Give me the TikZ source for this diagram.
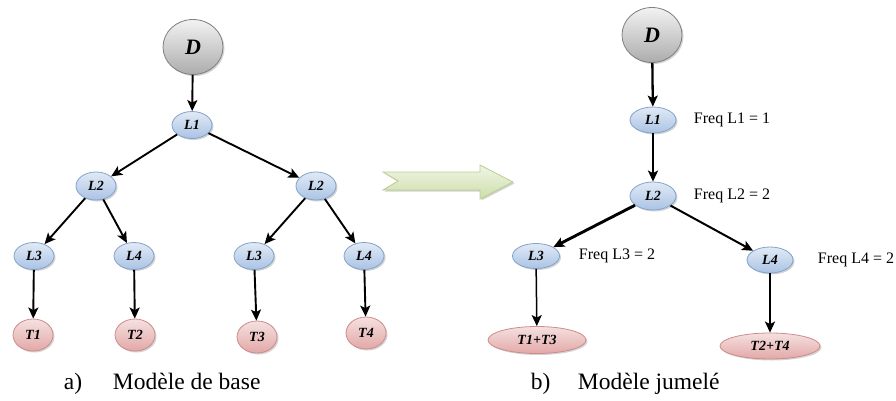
\documentclass[tikz,border=0pt]{standalone}
\usepackage{fontspec}
\setmainfont{Liberation Serif}
\usetikzlibrary{arrows.meta, shapes.geometric, shadows}

\definecolor{lblue}{RGB}{170,195,228}
\definecolor{lblueline}{RGB}{130,162,205}
\definecolor{tpink}{RGB}{226,168,167}
\definecolor{tpinkline}{RGB}{205,140,138}
\definecolor{agreen}{RGB}{205,222,170}
\definecolor{agreenline}{RGB}{185,206,140}

\begin{document}
\begin{tikzpicture}[x=1pt,y=-1pt,>={Stealth[length=11pt,width=10pt,inset=2.5pt]},line width=1.9pt]
  \tikzstyle{every shadow}=[opacity=0.35,shadow xshift=1.5pt,shadow yshift=-1.5pt]
  \tikzstyle{lnode}=[ellipse,draw=lblueline,line width=0.8pt,top color=lblue!35,bottom color=lblue,
    drop shadow,inner sep=0pt,font=\fontsize{14}{16}\selectfont\bfseries\itshape]
  \tikzstyle{tnode}=[lnode,draw=tpinkline,top color=tpink!35,bottom color=tpink]
  \tikzstyle{dnode}=[lnode,draw=gray,top color=gray!10,bottom color=gray!65,
    minimum width=60pt,minimum height=55pt,font=\fontsize{22}{24}\selectfont\bfseries\itshape]
  \tikzstyle{freq}=[anchor=west,inner sep=0pt,font=\fontsize{16}{18}\selectfont]
  \tikzstyle{caption}=[anchor=base west,inner sep=0pt,font=\fontsize{23.5}{26}\selectfont]

  \useasboundingbox (0,0) rectangle (896,401);

  % modele de base
  \node[dnode]                                      (aD)  at (193,47)  {D};
  \node[lnode,minimum width=40pt,minimum height=27pt] (aL1) at (192,125) {L1};
  \node[lnode,minimum width=40pt,minimum height=28pt] (aL2) at (96,186)  {L2};
  \node[lnode,minimum width=40pt,minimum height=28pt] (bL2) at (316,186) {L2};
  \node[lnode,minimum width=40pt,minimum height=27pt] (aL3) at (34,256)  {L3};
  \node[lnode,minimum width=40pt,minimum height=27pt] (aL4) at (134,256) {L4};
  \node[lnode,minimum width=40pt,minimum height=27pt] (bL3) at (254,256) {L3};
  \node[lnode,minimum width=40pt,minimum height=27pt] (bL4) at (364,256) {L4};
  \node[tnode,minimum width=40pt,minimum height=32pt] (aT1) at (33,335)  {T1};
  \node[tnode,minimum width=40pt,minimum height=32pt] (aT2) at (135,335) {T2};
  \node[tnode,minimum width=40pt,minimum height=32pt] (aT3) at (257,337) {T3};
  \node[tnode,minimum width=40pt,minimum height=32pt] (aT4) at (366,333) {T4};

  \path[->]
  (aD)  edge (aL1)
  (aL1) edge (aL2)
  (aL1) edge (bL2)
  (aL2) edge (aL3)
  (aL2) edge (aL4)
  (bL2) edge (bL3)
  (bL2) edge (bL4)
  (aL3) edge (aT1)
  (aL4) edge (aT2)
  (bL3) edge (aT3)
  (bL4) edge (aT4)
  ;

  \node[caption] (capa) at (63,389)  {a)};
  \node[caption] (capb) at (112,389) {Modèle de base};

  % fleche
  \path[draw=agreenline,line width=0.8pt,top color=agreen!30,bottom color=agreen,drop shadow]
    (383,172) -- (480,172) -- (480,165) -- (513,182) -- (480,199)
    -- (480,190) -- (383,190) -- (398,181) -- cycle;

  % modele jumele
  \node[dnode]                                       (jD)   at (652,35)  {D};
  \node[lnode,minimum width=46pt,minimum height=26pt] (jL1)  at (653,120) {L1};
  \node[lnode,minimum width=46pt,minimum height=28pt] (jL2)  at (653,196) {L2};
  \node[lnode,minimum width=47pt,minimum height=25pt] (jL3)  at (536,256) {L3};
  \node[lnode,minimum width=46pt,minimum height=26pt] (jL4)  at (770,260) {L4};
  \node[tnode,minimum width=98pt,minimum height=27pt] (jT13) at (537,340) {T1+T3};
  \node[tnode,minimum width=100pt,minimum height=26pt] (jT24) at (770,346) {T2+T4};

  \node[freq] (fL1) at (693,120) {Freq L1 = 1};
  \node[freq] (fL2) at (693,196) {Freq L2 = 2};
  \node[freq] (fL3) at (578,256) {Freq L3 = 2};
  \node[freq] (fL4) at (817,260) {Freq L4 = 2};

  \path[->]
  (jD)  edge [line width=2.3pt] (jL1)
  (jL1) edge [line width=2.5pt] (jL2)
  (jL2) edge [line width=2.9pt] (jL3)
  (jL2) edge [line width=2pt]   (jL4)
  (jL3) edge [line width=1.5pt] (jT13)
  (jL4) edge [line width=2.9pt] (jT24)
  ;

  \node[caption] (capc) at (530,389) {b)};
  \node[caption] (capd) at (577,389) {Modèle jumelé};
\end{tikzpicture}
\end{document}
